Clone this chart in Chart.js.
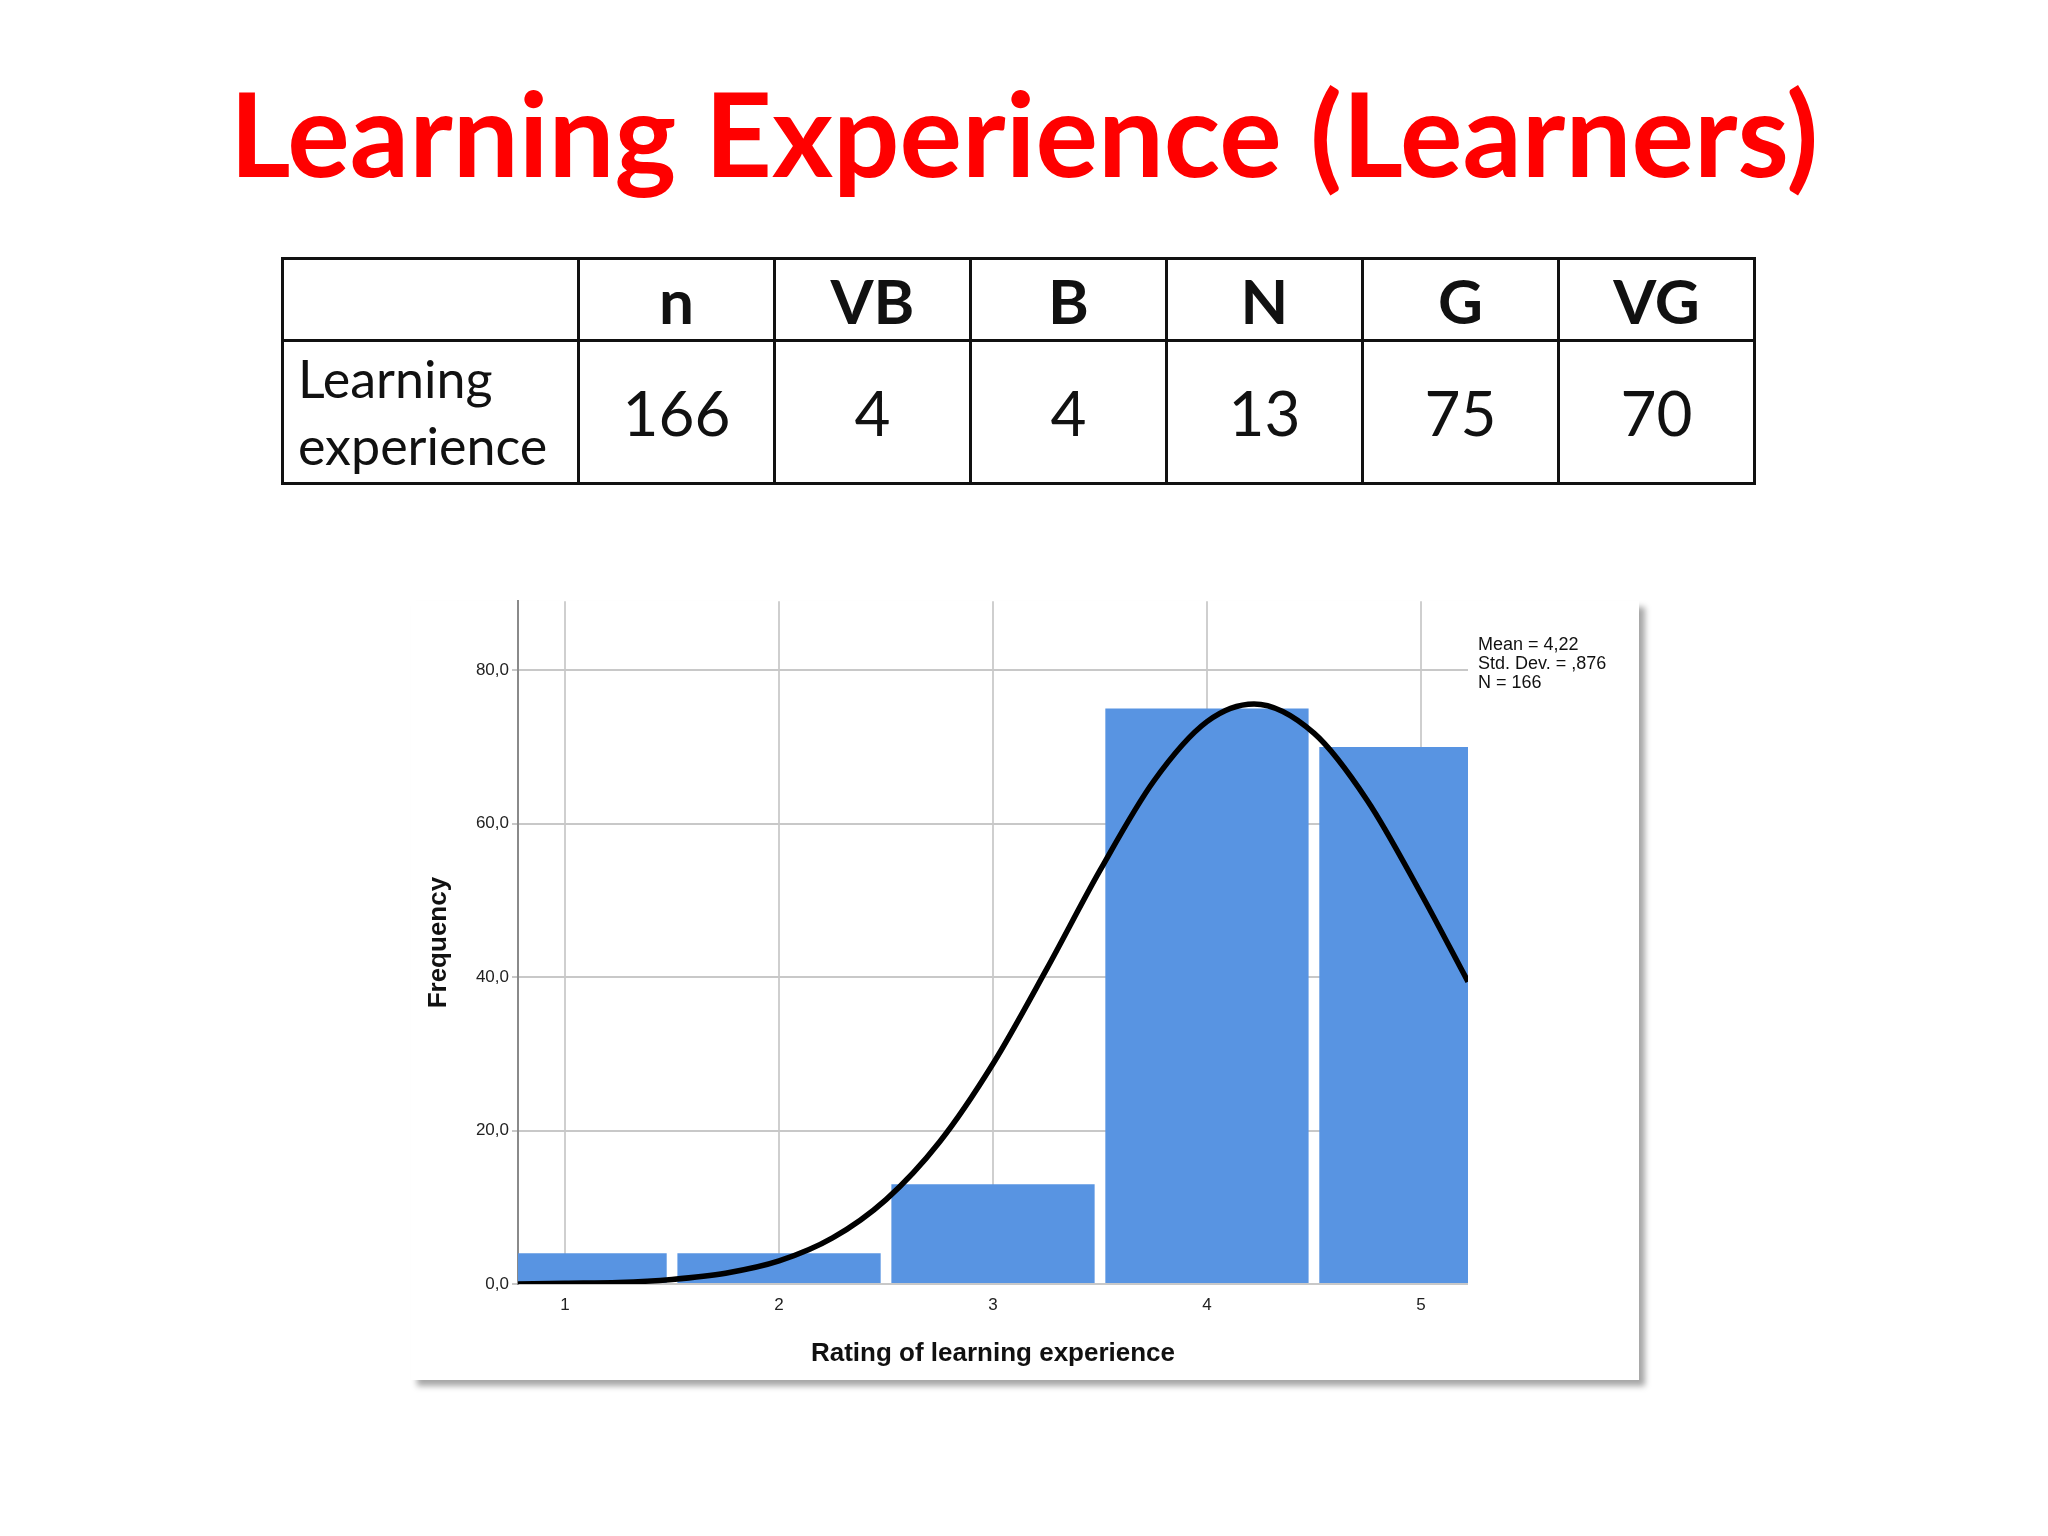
<!DOCTYPE html>
<html>
<head>
<meta charset="utf-8">
<script src="https://cdn.jsdelivr.net/npm/chart.js@4.4.1/dist/chart.umd.min.js"></script>
<style>
  html, body { margin: 0; padding: 0; background: #ffffff; }
  body { width: 2048px; height: 1536px; position: relative; overflow: hidden; font-family: Lato, "Open Sans", sans-serif; }
  #title { position: absolute; left: 0; width: 2048px; top: 62px; text-align: center;
           color: #ff0000; font-weight: 700; font-size: 117px; line-height: 140px; }
  #summary { position: absolute; left: 281px; top: 257px; border-collapse: collapse; table-layout: fixed; }
  #summary td { border: 3px solid #111; text-align: center; padding: 0; color: #111; }
  #summary tr.head td { height: 79px; font-weight: 700; font-size: 62px; }
  #summary tr.vals td { height: 140px; font-size: 62px; }
  #summary tr td.rowname { width: 279px; text-align: left; font-size: 52px; line-height: 67px; padding-left: 14px; }
  #summary td.num { width: 193px; }
  #panel { position: absolute; left: 411px; top: 601px; width: 1228px; height: 779px; background: #fff;
           box-shadow: 6px 6px 6px rgba(0,0,0,0.35); }
  #plotwrap { position: absolute; left: 0; top: -13px; width: 1228px; height: 792px; }
</style>
</head>
<body>
<div id="title">Learning Experience (Learners)</div>
<table id="summary">
  <tr class="head"><td class="rowname"></td></tr>
  <tr class="vals"><td class="rowname">Learning<br>experience</td></tr>
</table>
<div id="panel"><div id="plotwrap"><canvas id="histogram"></canvas></div></div>

<script>
// table columns and the counts per rating
const tableColumns = ['n', 'VB', 'B', 'N', 'G', 'VG'];
const tableValues = [166, 4, 4, 13, 75, 70];

// histogram: rating 1..5 with frequencies
const ratings = [1, 2, 3, 4, 5];
const frequencies = [4, 4, 13, 75, 70];

// normal curve
const curveX = [0.78, 1.0, 1.25, 1.5, 1.75, 2.0, 2.25, 2.5, 2.75, 3.0, 3.25, 3.5, 3.75, 4.0, 4.22, 4.5, 4.75, 5.0, 5.22];
const curveY = [0.0, 0.1, 0.2, 0.6, 1.4, 3.0, 6.0, 11.0, 18.5, 28.7, 41.0, 53.9, 65.5, 73.3, 75.6, 71.8, 63.0, 50.9, 39.4];

const xTicks = [1, 2, 3, 4, 5];
const yTicks = [0, 20, 40, 60, 80];
const statsLines = ['Mean = 4,22', 'Std. Dev. = ,876', 'N = 166'];

/* build the table */
const headRow = document.querySelector('#summary tr.head');
const valRow = document.querySelector('#summary tr.vals');
tableColumns.forEach((label, i) => {
    const th = document.createElement('td');
    th.className = 'num';
    th.textContent = label;
    headRow.appendChild(th);
    const td = document.createElement('td');
    td.className = 'num';
    td.textContent = tableValues[i];
    valRow.appendChild(td);
});

/* stats text to the right of the plot */
const statsBox = {
    id: 'statsBox',
    afterDraw(chart) {
        const ctx = chart.ctx;
        ctx.save();
        ctx.fillStyle = '#111';
        ctx.font = '18px "Liberation Sans", Arial, sans-serif';
        ctx.textBaseline = 'middle';
        statsLines.forEach((line, i) => {
            ctx.fillText(line, chart.chartArea.right + 10, chart.chartArea.top + 44 + i * 19);
        });
        ctx.restore();
    }
};

const commaFmt = v => v.toFixed(1).replace('.', ',');

new Chart(document.getElementById('histogram'), {
    data: {
        datasets: [{
            type: 'line',
            data: curveX.map((x, i) => ({ x: x, y: curveY[i] })),
            borderColor: '#000',
            borderWidth: 5.5,
            pointRadius: 0,
            cubicInterpolationMode: 'monotone',
            order: 0
        }, {
            type: 'bar',
            data: ratings.map((r, i) => ({ x: r, y: frequencies[i] })),
            backgroundColor: '#5894e2',
            borderWidth: 0,
            categoryPercentage: 1,
            barPercentage: 0.95,
            order: 1
        }]
    },
    options: {
        responsive: true,
        maintainAspectRatio: false,
        animation: false,
        layout: { padding: { left: 0, right: 171, top: 0, bottom: 0 } },
        plugins: { legend: { display: false }, tooltip: { enabled: false } },
        scales: {
            x: {
                type: 'linear',
                min: 0.78,
                max: 5.22,
                offset: false,
                afterBuildTicks: axis => { axis.ticks = xTicks.map(v => ({ value: v })); },
                afterFit: axis => { axis.height = 96; },
                grid: { color: '#cfcfcf', lineWidth: 2, drawTicks: false, offset: false },
                border: { display: false },
                ticks: { color: '#222', font: { family: '"Liberation Sans", Arial', size: 17 }, padding: 11,
                         callback: v => String(v), maxRotation: 0 },
                title: { display: true, text: 'Rating of learning experience', color: '#111',
                         font: { family: '"Liberation Sans", Arial', size: 26, weight: 'bold' },
                         padding: { top: 0, bottom: 11 } }
            },
            y: {
                min: 0,
                max: 89,
                afterBuildTicks: axis => { axis.ticks = yTicks.map(v => ({ value: v })); },
                afterFit: axis => { axis.width = 107; },
                grid: { color: '#c8c8c8', lineWidth: 2, tickLength: 6 },
                border: { color: '#8a8a8a', width: 2 },
                ticks: { color: '#222', font: { family: '"Liberation Sans", Arial', size: 17 }, padding: 3,
                         callback: v => commaFmt(v) },
                title: { display: true, text: 'Frequency', color: '#111',
                         font: { family: '"Liberation Sans", Arial', size: 26, weight: 'bold' },
                         padding: { top: 12, bottom: 0 } }
            }
        }
    },
    plugins: [statsBox]
});
</script>
</body>
</html>
